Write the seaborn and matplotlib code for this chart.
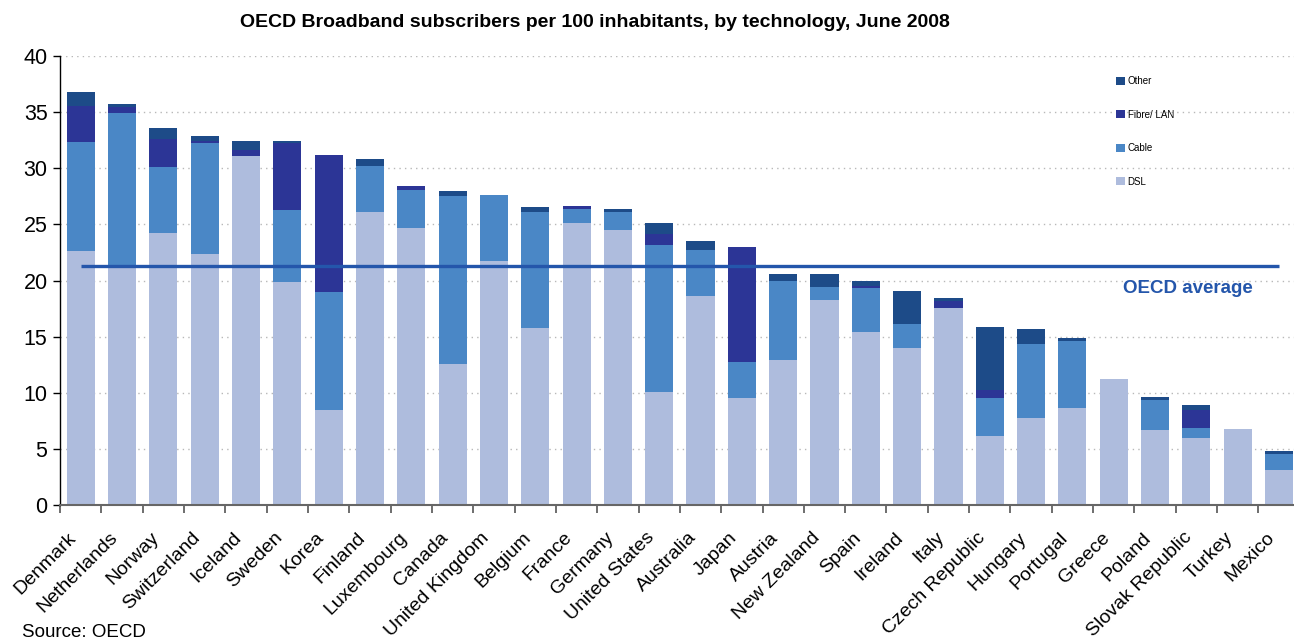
import matplotlib.pyplot as plt
import numpy as np
import pandas as pd
import seaborn as sns
from matplotlib.patches import Patch
from matplotlib.ticker import FixedLocator
from matplotlib.transforms import ScaledTranslation

# %%
countries = [
    "Denmark", "Netherlands", "Norway", "Switzerland", "Iceland", "Sweden",
    "Korea", "Finland", "Luxembourg", "Canada", "United Kingdom", "Belgium",
    "France", "Germany", "United States", "Australia", "Japan", "Austria",
    "New Zealand", "Spain", "Ireland", "Italy", "Czech Republic", "Hungary",
    "Portugal", "Greece", "Poland", "Slovak Republic", "Turkey", "Mexico",
]
dsl = [22.6, 21.1, 24.2, 22.4, 31.1, 19.9, 8.5, 26.1, 24.7, 12.6, 21.7, 15.8,
       25.1, 24.5, 10.1, 18.6, 9.6, 12.9, 18.3, 15.4, 14.0, 17.6, 6.2, 7.8,
       8.7, 11.25, 6.7, 6.0, 6.8, 3.2]
cable = [9.7, 13.8, 5.9, 9.8, 0.0, 6.4, 10.5, 4.1, 3.4, 14.9, 5.9, 10.3,
         1.25, 1.6, 13.1, 4.1, 3.2, 7.1, 1.1, 3.9, 2.15, 0.0, 3.4, 6.6,
         5.9, 0.0, 2.7, 0.9, 0.0, 1.4]
fibre = [3.2, 0.5, 2.5, 0.2, 0.5, 5.9, 12.2, 0.0, 0.3, 0.0, 0.0, 0.0,
         0.25, 0.0, 0.9, 0.0, 10.2, 0.0, 0.0, 0.2, 0.0, 0.55, 0.7, 0.0,
         0.0, 0.0, 0.0, 1.6, 0.0, 0.0]
other = [1.3, 0.3, 0.95, 0.45, 0.8, 0.25, 0.0, 0.6, 0.0, 0.45, 0.0, 0.45,
         0.0, 0.3, 1.0, 0.8, 0.0, 0.6, 1.15, 0.45, 2.95, 0.27, 5.6, 1.3,
         0.27, 0.0, 0.27, 0.45, 0.0, 0.27]
oecd_average = 21.3

colors = {
    "DSL": "#AEBCDD",
    "Cable": "#4A87C6",
    "Fibre/ LAN": "#2C3596",
    "Other": "#1D4B88",
}

# %%
df = pd.DataFrame({"country": countries, "DSL": dsl, "Cable": cable,
                   "Fibre/ LAN": fibre, "Other": other})
# cumulative heights, drawn tallest first so each layer covers the one below
df["top_dsl"] = df["DSL"]
df["top_cable"] = df["top_dsl"] + df["Cable"]
df["top_fibre"] = df["top_cable"] + df["Fibre/ LAN"]
df["top_other"] = df["top_fibre"] + df["Other"]

sns.set_style("white")
plt.rcParams["font.family"] = ["Liberation Sans", "DejaVu Sans"]
plt.rcParams["text.color"] = "black"
plt.rcParams["xtick.color"] = "black"
plt.rcParams["ytick.color"] = "black"

fig = plt.figure(figsize=(12.94, 6.41), dpi=100)
ax = fig.add_axes([0.0464, 0.2114, 0.958, 0.7017])

layers = [("top_other", "Other"), ("top_fibre", "Fibre/ LAN"),
          ("top_cable", "Cable"), ("top_dsl", "DSL")]
for col, name in layers:
    sns.barplot(data=df, x="country", y=col, color=colors[name], width=0.68,
                saturation=1, errorbar=None, linewidth=0, ax=ax)

n = len(countries)
ax.plot([0, n - 1], [oecd_average, oecd_average], color="#2456AB", lw=2.4,
        solid_capstyle="butt", zorder=5)
ax.text(26.8, 19.3, "OECD average", color="#2456AB", fontsize=13.5,
        fontweight="bold", ha="center", va="center")

ax.set_xlim(-0.5, n - 0.5)
ax.set_ylim(0, 40)
ax.set_yticks(np.arange(0, 41, 5))
ax.yaxis.grid(True, linestyle=(0, (1, 3)), color="#B8B8B8", linewidth=1)
ax.set_axisbelow(True)
ax.set_xlabel("")
ax.set_ylabel("")

ax.xaxis.set_minor_locator(FixedLocator(np.arange(-0.5, n, 1.0)))
ax.tick_params(axis="x", which="major", length=0, pad=17, labelsize=14,
               labelcolor="black")
ax.tick_params(axis="x", which="minor", length=6, width=1.2, color="#555555",
               direction="out", bottom=True)
ax.tick_params(axis="y", length=5, width=1, color="black", direction="out",
               left=True, labelsize=15.5, pad=4, labelcolor="black")
shift = ScaledTranslation(-0.13, 0, fig.dpi_scale_trans)
for lab in ax.get_xticklabels():
    lab.set_rotation(45)
    lab.set_ha("right")
    lab.set_va("top")
    lab.set_rotation_mode("anchor")
    lab.set_transform(lab.get_transform() + shift)

sns.despine(ax=ax)
ax.spines["left"].set_color("black")
ax.spines["left"].set_linewidth(1)
ax.spines["bottom"].set_color("#666666")
ax.spines["bottom"].set_linewidth(1.5)

handles = [Patch(facecolor=colors[k], edgecolor="none")
           for k in ["Other", "Fibre/ LAN", "Cable", "DSL"]]
fig.legend(handles, ["Other", "Fibre/ LAN", "Cable", "DSL"], loc="upper left",
           bbox_to_anchor=(0.859, 0.889), frameon=False, fontsize=7,
           handlelength=0.9, handleheight=0.9, handletextpad=0.25,
           labelspacing=2.42, borderpad=0, labelcolor="black")

fig.text(0.46, 0.965, "OECD Broadband subscribers per 100 inhabitants, by technology, June 2008",
         ha="center", va="center", fontsize=14, fontweight="bold", color="black")
fig.text(0.017, 0.014, "Source: OECD", ha="left", va="center", fontsize=13.5,
         color="black")

fig.savefig("out.png", dpi=100)
